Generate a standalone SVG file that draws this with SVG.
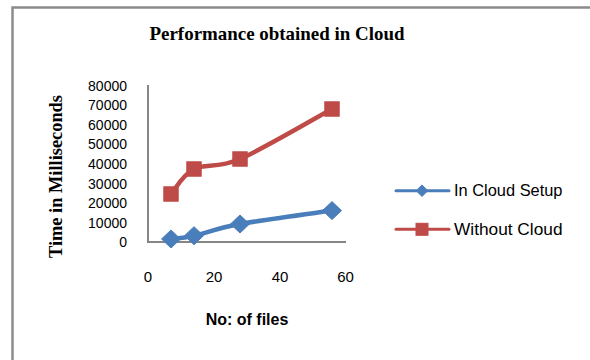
<svg xmlns="http://www.w3.org/2000/svg" width="590" height="360" viewBox="0 0 590 360">
  <style>
    .frame { fill: #ffffff; stroke: #8c8c8c; stroke-width: 2.5; }
    .axis { stroke: #868686; stroke-width: 2; fill: none; }
    .tick { font-family: "Liberation Sans", Arial, sans-serif; font-size: 14px; fill: #000; }
    .xtick { font-family: "Liberation Sans", Arial, sans-serif; font-size: 15px; fill: #000; }
    .legend { font-family: "Liberation Sans", Arial, sans-serif; font-size: 16.5px; fill: #000; }
    .title { font-family: "Liberation Serif", "Times New Roman", serif; font-weight: bold; fill: #000; }
    .xtitle { font-family: "Liberation Sans", Arial, sans-serif; font-weight: bold; font-size: 16px; fill: #000; }
    .blue-line { stroke: #4A7EBB; fill: none; stroke-linejoin: round; stroke-linecap: round; }
    .red-line { stroke: #BE4B48; fill: none; stroke-linejoin: round; stroke-linecap: round; }
    .blue-mark { fill: #4A7EBB; stroke: #4A7EBB; stroke-width: 1; }
    .red-mark { fill: #BE4B48; stroke: #BE4B48; stroke-width: 1; }
  </style>
  <defs>
    <polygon id="diamond" points="0,-9 9.5,0 0,9 -9.5,0"/>
    <rect id="square" x="-7.2" y="-7.2" width="14.4" height="14.4"/>
    <polygon id="diamond-sm" points="0,-5.8 5.8,0 0,5.8 -5.8,0"/>
    <rect id="square-sm" x="-6" y="-6" width="12" height="12"/>
  </defs>

  <rect width="590" height="360" fill="#ffffff"/>
  <rect class="frame" x="12.5" y="7.5" width="600" height="400"/>

  <!-- chart title -->
  <text class="title" x="277" y="39.5" font-size="19.5" text-anchor="middle" textLength="255" lengthAdjust="spacingAndGlyphs">Performance obtained in Cloud</text>

  <!-- y-axis title -->
  <text class="title" font-size="18" transform="translate(62,176.5) rotate(-90)" text-anchor="middle" textLength="163" lengthAdjust="spacingAndGlyphs">Time in Milliseconds</text>

  <!-- axes -->
  <g id="axes">
    <line class="axis" x1="148" y1="85" x2="148" y2="242"/>
    <line class="axis" x1="147" y1="242" x2="346" y2="242"/>
  </g>

  <!-- y tick labels -->
  <g id="y-labels" text-anchor="end">
    <text class="tick" x="127" y="90.5">80000</text>
    <text class="tick" x="127" y="110.1">70000</text>
    <text class="tick" x="127" y="129.7">60000</text>
    <text class="tick" x="127" y="149.3">50000</text>
    <text class="tick" x="127" y="168.9">40000</text>
    <text class="tick" x="127" y="188.5">30000</text>
    <text class="tick" x="127" y="208.1">20000</text>
    <text class="tick" x="127" y="227.7">10000</text>
    <text class="tick" x="127" y="247.3">0</text>
  </g>

  <!-- x tick labels -->
  <g id="x-labels" text-anchor="middle">
    <text class="xtick" x="148" y="281.7">0</text>
    <text class="xtick" x="214" y="281.7">20</text>
    <text class="xtick" x="280" y="281.7">40</text>
    <text class="xtick" x="345.5" y="281.7">60</text>
  </g>

  <!-- x-axis title -->
  <text class="xtitle" x="247" y="325" text-anchor="middle">No: of files</text>

  <!-- series lines (smoothed) -->
  <g id="connectors">
    <path class="red-line" stroke-width="4.5" d="M171,194 C174.8,189.8 182.5,174.8 194,169 C205.5,163.2 217,169 240,159 C263,149 316.7,117.3 332,109"/>
    <path class="blue-line" stroke-width="4.5" d="M171,239 C174.8,238.5 182.5,238.2 194,235.7 C205.5,233.2 217,228.2 240,224 C263,219.8 316.7,212.8 332,210.6"/>
  </g>

  <!-- Without Cloud data points -->
  <g id="series-without-cloud">
    <use href="#square" class="red-mark" x="171" y="194"/>
    <use href="#square" class="red-mark" x="194" y="169"/>
    <use href="#square" class="red-mark" x="240" y="159"/>
    <use href="#square" class="red-mark" x="332" y="109"/>
  </g>

  <!-- In Cloud Setup data points -->
  <g id="series-in-cloud">
    <use href="#diamond" class="blue-mark" x="171" y="239"/>
    <use href="#diamond" class="blue-mark" x="194" y="235.7"/>
    <use href="#diamond" class="blue-mark" x="240" y="224"/>
    <use href="#diamond" class="blue-mark" x="332" y="210.6"/>
  </g>

  <!-- legend -->
  <g id="legend-in-cloud">
    <line class="blue-line" stroke-width="3" x1="396" y1="190.7" x2="449" y2="190.7"/>
    <use href="#diamond-sm" class="blue-mark" x="422" y="190.7"/>
    <text class="legend" x="454" y="196" textLength="108.5" lengthAdjust="spacingAndGlyphs">In Cloud Setup</text>
  </g>
  <g id="legend-without-cloud">
    <line class="red-line" stroke-width="3" x1="396" y1="229.3" x2="449" y2="229.3"/>
    <use href="#square-sm" class="red-mark" x="422" y="229.3"/>
    <text class="legend" x="454" y="235" textLength="108.5" lengthAdjust="spacingAndGlyphs">Without Cloud</text>
  </g>
</svg>
